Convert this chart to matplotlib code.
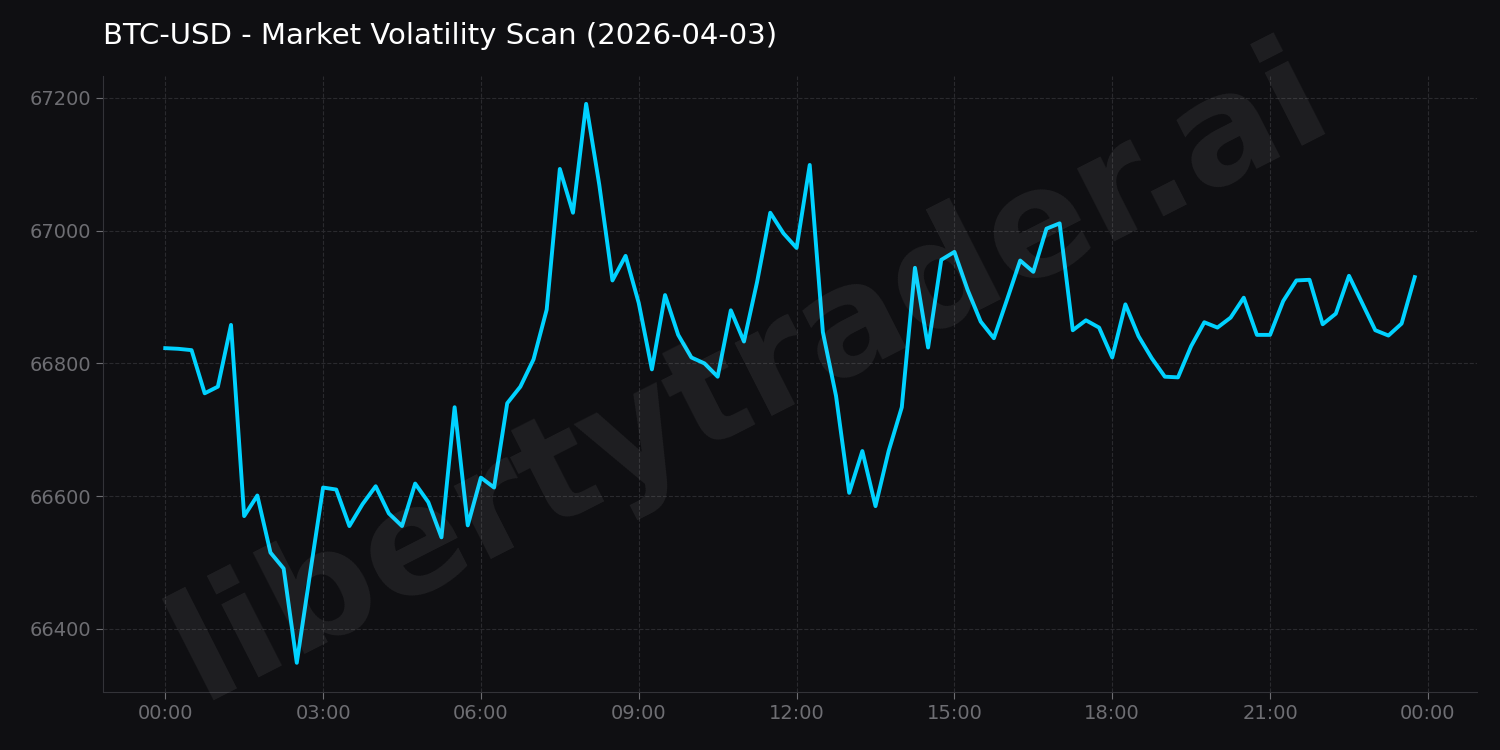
import matplotlib
matplotlib.use("Agg")
import matplotlib.pyplot as plt
import matplotlib.dates as mdates
import pandas as pd

title = "BTC-USD - Market Volatility Scan (2026-04-03)"
watermark = "libertytrader.ai"
start = "2026-04-03 00:00"
prices = [
    66823, 66822, 66820, 66755, 66765, 66858, 66570, 66601, 66515, 66491,
    66349, 66482, 66613, 66610, 66555, 66588, 66615, 66574, 66555, 66619,
    66591, 66538, 66734, 66556, 66628, 66613, 66740, 66765, 66806, 66881,
    67093, 67027, 67191, 67069, 66925, 66962, 66891, 66791, 66903, 66843,
    66809, 66800, 66780, 66880, 66833, 66923, 67027, 66996, 66974, 67099,
    66847, 66751, 66605, 66668, 66585, 66668, 66734, 66944, 66824, 66956,
    66968, 66911, 66863, 66838, 66896, 66955, 66938, 67003, 67011, 66850,
    66865, 66854, 66809, 66889, 66841, 66808, 66780, 66779, 66826, 66862,
    66854, 66869, 66899, 66843, 66843, 66894, 66925, 66926, 66859, 66875,
    66932, 66891, 66850, 66842, 66860, 66930,
]
times = pd.date_range(start, periods=len(prices), freq="15min")

bg = "#0f0f12"
fig = plt.figure(figsize=(15, 7.5), dpi=100, facecolor=bg)
ax = fig.add_axes([103 / 1500, 58 / 750, 1374 / 1500, 616 / 750], facecolor=bg)

ax.plot(times, prices, color="#00d2ff", linewidth=2.8, zorder=3)

ax.set_xlim(pd.Timestamp("2026-04-02 22:49"), pd.Timestamp("2026-04-04 00:56"))
ax.set_ylim(66305, 67233)
ax.set_yticks([66400, 66600, 66800, 67000, 67200])
ax.xaxis.set_major_locator(mdates.HourLocator(byhour=range(0, 24, 3)))
ax.xaxis.set_major_formatter(mdates.DateFormatter("%H:%M"))

ax.grid(True, color="#2a2a2e", linestyle="--", linewidth=0.8)
for side in ["top", "right"]:
    ax.spines[side].set_visible(False)
for side in ["left", "bottom"]:
    ax.spines[side].set_color("#333338")
ax.tick_params(colors="#6e6e73", labelsize=14, length=5)

fig.text(103 / 1500, 1 - 36 / 750, title, color="white", fontsize=21, va="center")
fig.text(0.5, 0.5, watermark, color="#ffffff", alpha=0.07, fontsize=108,
         fontweight="bold", rotation=27, ha="center", va="center", zorder=0)

fig.savefig("out.png", dpi=100, facecolor=bg)
